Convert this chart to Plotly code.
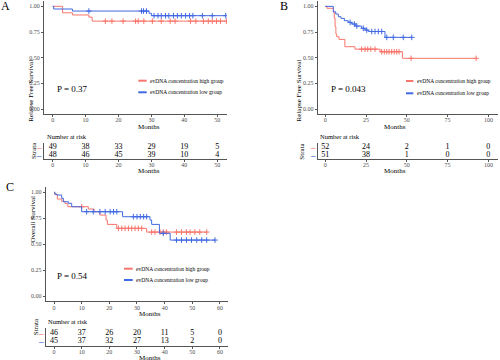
import numpy as np
import plotly.graph_objects as go

W, H = 500, 360
RED = "#F8766D"
BLUE = "#4169E1"
FONT = "Liberation Serif"

# ---------------- data ----------------
# Panel A (relapse free survival)
A_high_t = [0, 3, 6, 11, 12, 52.8]
A_high_s = [1.0, 0.937, 0.916, 0.895, 0.856, 0.856]
A_high_cens = [16, 18, 21.4, 25.2, 26, 27.7, 30.3, 33, 35.7, 37.2, 41.9, 43.5, 45.8, 47.3, 48.5, 49.8, 51, 52.8]
A_low_t = [0, 0.3, 6, 29.3, 30, 52.6]
A_low_s = [1.0, 0.974, 0.954, 0.932, 0.909, 0.909]
A_low_cens = [11, 27, 27.6, 28.5, 30.8, 32, 33, 34.3, 35.3, 36.7, 37.9, 39.1, 40.4, 41.6, 42.6, 45.5, 48.5, 52.6]
A_risk_times = [0, 10, 20, 30, 40, 50]
A_risk_high = [49, 38, 33, 29, 19, 5]
A_risk_low = [48, 46, 45, 39, 10, 4]
A_p = "P = 0.37"

# Panel B (relapse free survival)
B_high_t = [0, 1, 5, 5.5, 6, 6.5, 7, 8.4, 12, 18.2, 33.6, 47.3, 92.5]
B_high_s = [1.0, 0.981, 0.942, 0.885, 0.80, 0.731, 0.704, 0.678, 0.607, 0.583, 0.558, 0.494, 0.494]
B_high_cens = [22.3, 24.4, 26, 27.9, 30.5, 34.6, 36.2, 37.7, 39.1, 40.7, 42.3, 43.8, 45.2, 52.6, 92.5]
B_low_t = [0, 4.9, 6.4, 8, 9.6, 11.7, 14.1, 16.2, 18.7, 22.3, 24.4, 26.4, 36.6, 53]
B_low_s = [1.0, 0.947, 0.925, 0.899, 0.883, 0.86, 0.844, 0.828, 0.808, 0.786, 0.769, 0.755, 0.698, 0.698]
B_low_cens = [15.2, 17.8, 19.3, 23.3, 25.4, 28.5, 30.5, 32.5, 34.6, 37.7, 41.7, 47.8, 53]
B_risk_times = [0, 25, 50, 75, 100]
B_risk_high = [52, 24, 2, 1, 0]
B_risk_low = [51, 38, 1, 0, 0]
B_p = "P = 0.043"

# Panel C (overall survival)
C_high_t = [0, 0.3, 1.2, 2.8, 4, 5, 12.4, 14.5, 16.6, 18.8, 19.3, 22.7, 33.5, 55.2]
C_high_s = [1.0, 0.978, 0.935, 0.913, 0.891, 0.861, 0.839, 0.813, 0.781, 0.733, 0.691, 0.653, 0.617, 0.617]
C_high_cens = [10, 23.3, 24.5, 25.7, 26.9, 28.1, 29.3, 30.5, 31.7, 35.3, 36.5, 38.3, 39.5, 40.7, 44.3, 46.1, 47.9, 49.2, 50.9, 52.7, 55.2]
C_low_t = [0, 0.3, 1, 2.8, 3.4, 5.2, 6.4, 10, 24.8, 34.7, 35.3, 38.1, 42, 58.2]
C_low_s = [1.0, 0.983, 0.974, 0.942, 0.909, 0.894, 0.861, 0.813, 0.765, 0.733, 0.691, 0.605, 0.54, 0.54]
C_low_cens = [11.8, 14.2, 16.6, 18.5, 20.3, 21.5, 22.7, 28.7, 30, 31.2, 32.4, 33.5, 39.5, 44.3, 46.1, 47.9, 49.7, 51.6, 53.4, 55.2, 58.2]
C_risk_times = [0, 10, 20, 30, 40, 50, 60]
C_risk_high = [46, 37, 26, 20, 11, 5, 0]
C_risk_low = [45, 37, 32, 27, 13, 2, 0]
C_p = "P = 0.54"

legend_labels = ["evDNA concentration high group", "evDNA concentration low group"]


def pxx(p):
    return p / W


def pxy(p):
    return 1 - p / H


def step_at(ts, ss, c):
    ts = np.asarray(ts)
    idx = np.searchsorted(ts, c, side="right") - 1
    return [ss[i] for i in idx]


fig = go.Figure()

axis_common = dict(
    showline=True, linecolor="#555555", linewidth=1, ticks="outside", ticklen=2,
    tickcolor="#555555", tickwidth=1, showgrid=False, zeroline=False, automargin=False,
    tickfont=dict(family=FONT, size=6, color="#4D4D4D"), fixedrange=True,
)

panels = [
    dict(m="", r="2", xd=(44, 227), myd=(1.2, 114.2), ryd=(143, 159), xr=(-2.64, 52.98),
         tv=A_risk_times, hi=(A_high_t, A_high_s, A_high_cens), lo=(A_low_t, A_low_s, A_low_cens),
         rh=A_risk_high, rl=A_risk_low, ytitle="Relapse Free Survival", p=A_p),
    dict(m="3", r="4", xd=(317.7, 498), myd=(1.2, 114.2), ryd=(143, 159), xr=(-4.66, 105.9),
         tv=B_risk_times, hi=(B_high_t, B_high_s, B_high_cens), lo=(B_low_t, B_low_s, B_low_cens),
         rh=B_risk_high, rl=B_risk_low, ytitle="Relapse Free Survival", p=B_p),
    dict(m="5", r="6", xd=(45.7, 228), myd=(187.1, 301.4), ryd=(328.2, 345.8), xr=(-3.0, 62.9),
         tv=C_risk_times, hi=(C_high_t, C_high_s, C_high_cens), lo=(C_low_t, C_low_s, C_low_cens),
         rh=C_risk_high, rl=C_risk_low, ytitle="Overall Survival", p=C_p),
]

layout = {}
annotations = []
shapes = []

for P in panels:
    mx, my = "x" + P["m"], "y" + P["m"]
    rx, ry = "x" + P["r"], "y" + P["r"]
    xdom = [pxx(P["xd"][0]), pxx(P["xd"][1])]
    layout["xaxis" + P["m"]] = dict(axis_common, domain=xdom, range=list(P["xr"]), anchor=my,
                                    tickvals=P["tv"], ticklabelstandoff=-2)
    layout["yaxis" + P["m"]] = dict(axis_common, domain=[pxy(P["myd"][1]), pxy(P["myd"][0])],
                                    range=[-0.05, 1.05], anchor=mx,
                                    tickvals=[0, 0.25, 0.5, 0.75, 1.0],
                                    ticktext=["0.00", "0.25", "0.50", "0.75", "1.00"])
    layout["xaxis" + P["r"]] = dict(axis_common, domain=xdom, range=list(P["xr"]), anchor=ry,
                                    tickvals=P["tv"], ticklabelstandoff=-2)
    layout["yaxis" + P["r"]] = dict(axis_common, domain=[pxy(P["ryd"][1]), pxy(P["ryd"][0])],
                                    range=[0.4, 2.6], anchor=rx, ticks="", showticklabels=False)

    for (t, s, c), col in [(P["hi"], RED), (P["lo"], BLUE)]:
        fig.add_trace(go.Scatter(x=t, y=s, mode="lines", line=dict(color=col, width=1, shape="hv"),
                                 xaxis=mx, yaxis=my, showlegend=False, hoverinfo="skip"))
        fig.add_trace(go.Scatter(x=c, y=step_at(t, s, c), mode="markers",
                                 marker=dict(symbol="cross-thin", size=4, line=dict(color=col, width=1)),
                                 xaxis=mx, yaxis=my, showlegend=False, hoverinfo="skip"))

    fig.add_trace(go.Scatter(x=P["tv"], y=[2] * len(P["tv"]), mode="text",
                             text=[str(v) for v in P["rh"]],
                             textfont=dict(family=FONT, size=8, color="#000000"),
                             xaxis=rx, yaxis=ry, showlegend=False, hoverinfo="skip"))
    fig.add_trace(go.Scatter(x=P["tv"], y=[1] * len(P["tv"]), mode="text",
                             text=[str(v) for v in P["rl"]],
                             textfont=dict(family=FONT, size=8, color="#000000"),
                             xaxis=rx, yaxis=ry, showlegend=False, hoverinfo="skip"))

    x0 = P["xd"][0]
    for yv, col in [(2, RED), (1, BLUE)]:
        annotations.append(dict(x=pxx(x0 - 5), y=yv, xref="paper", yref=ry, text="<b>–</b>",
                                showarrow=False, xanchor="center", yanchor="middle",
                                font=dict(family=FONT, size=9, color=col)))
    annotations.append(dict(x=pxx(x0 - 16), y=pxy((P["ryd"][0] + P["ryd"][1]) / 2), xref="paper",
                            yref="paper", text="Strata", textangle=-90, showarrow=False,
                            font=dict(family=FONT, size=7, color="black")))
    annotations.append(dict(x=pxx(x0 + 0.5), y=pxy(P["ryd"][0] - 6.5), xref="paper", yref="paper",
                            text="Number at risk", showarrow=False, xanchor="left", yanchor="middle",
                            font=dict(family=FONT, size=6.5, color="black")))
    cx = (P["xd"][0] + P["xd"][1]) / 2
    annotations.append(dict(x=pxx(cx), y=pxy(P["myd"][1] + 12.5), xref="paper", yref="paper",
                            text="Months", showarrow=False, yanchor="middle",
                            font=dict(family=FONT, size=7, color="black")))
    annotations.append(dict(x=pxx(cx), y=pxy(P["ryd"][1] + 12), xref="paper", yref="paper",
                            text="Months", showarrow=False, yanchor="middle",
                            font=dict(family=FONT, size=7, color="black")))
    annotations.append(dict(x=pxx(x0 - 19), y=pxy((P["myd"][0] + P["myd"][1]) / 2), xref="paper",
                            yref="paper", text=P["ytitle"], textangle=-90, showarrow=False,
                            font=dict(family=FONT, size=7, color="black")))

for txt, x, y in [(A_p, 55, 89), (B_p, 329.3, 89.3), (C_p, 55, 276)]:
    annotations.append(dict(x=pxx(x), y=pxy(y), xref="paper", yref="paper", text=txt,
                            showarrow=False, xanchor="left", yanchor="middle",
                            font=dict(family=FONT, size=9, color="black")))

for (lx0, lx1, ly1, ly2) in [(138.3, 146.7, 80.7, 92.3), (406, 413.3, 81, 93.3), (124, 132.7, 268.7, 280)]:
    for yy, col, lab in [(ly1, RED, legend_labels[0]), (ly2, BLUE, legend_labels[1])]:
        shapes.append(dict(type="line", xref="paper", yref="paper", x0=pxx(lx0), x1=pxx(lx1),
                           y0=pxy(yy), y1=pxy(yy), line=dict(color=col, width=2)))
        annotations.append(dict(x=pxx(lx1 + 1.5), y=pxy(yy), xref="paper", yref="paper", text=lab,
                                showarrow=False, xanchor="left", yanchor="middle",
                                font=dict(family=FONT, size=5.5, color="black")))

for txt, x, y in [("A", 5, 6), ("B", 284, 6), ("C", 10, 187)]:
    annotations.append(dict(x=pxx(x), y=pxy(y), xref="paper", yref="paper", text=txt,
                            showarrow=False, xanchor="center", yanchor="middle",
                            font=dict(family=FONT, size=12, color="black")))

fig.update_layout(
    width=W, height=H, margin=dict(l=0, r=0, t=0, b=0, pad=0, autoexpand=False),
    paper_bgcolor="white", plot_bgcolor="white", showlegend=False,
    annotations=annotations, shapes=shapes, **layout,
)

fig.write_html(
    "out.html",
    config={"displayModeBar": False},
    post_script="document.body.style.margin='0';document.body.style.padding='0';document.body.style.overflow='hidden';",
)
